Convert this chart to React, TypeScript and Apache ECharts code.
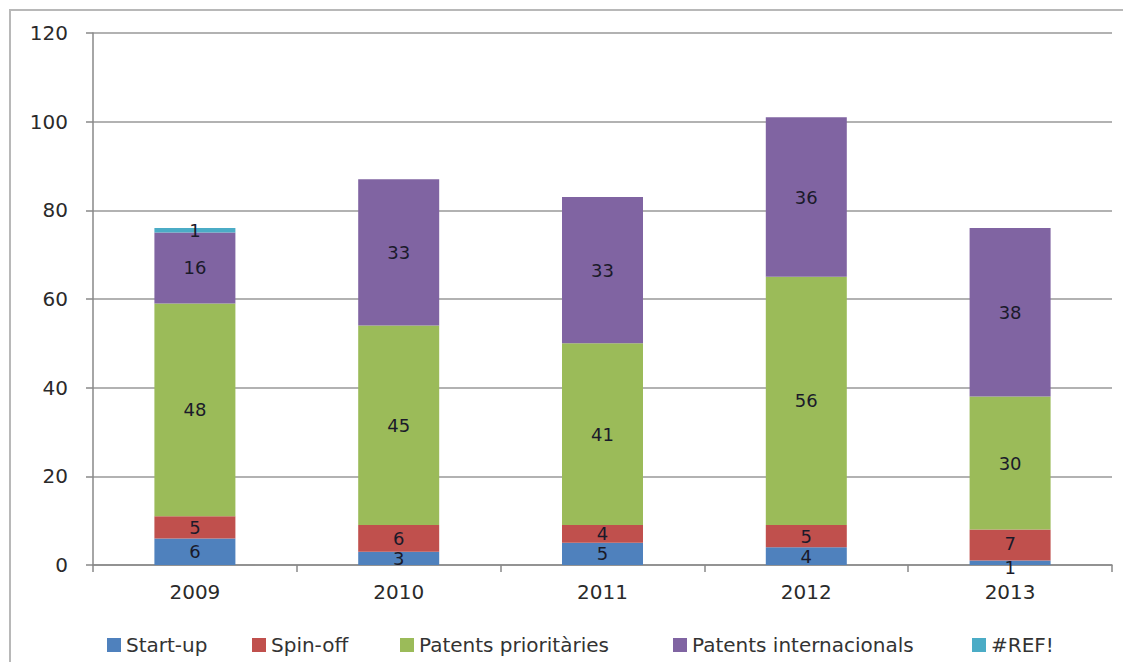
import React, { useEffect, useRef } from "react";
import * as echarts from "echarts";

const categories = ["2009", "2010", "2011", "2012", "2013"];
const startUp = [6, 3, 5, 4, 1];
const spinOff = [5, 6, 4, 5, 7];
const patentsPrioritaries = [48, 45, 41, 56, 30];
const patentsInternacionals = [16, 33, 33, 36, 38];
const refError = [1, 0, 0, 0, 0];

const seriesNames = [
  "Start-up",
  "Spin-off",
  "Patents prioritàries",
  "Patents internacionals",
  "#REF!",
];
const seriesData = [startUp, spinOff, patentsPrioritaries, patentsInternacionals, refError];
const colors = ["#4F81BD", "#C0504D", "#9BBB59", "#8064A2", "#4BACC6"];
const legendLefts = [94, 239, 387, 660, 959];

export default function App() {
  const ref = useRef<HTMLDivElement>(null);
  useEffect(() => {
    if (!ref.current) return;
    const chart = echarts.init(ref.current, undefined, { renderer: "svg" });
    const font = "DejaVu Sans";
    chart.setOption({
      animation: false,
      textStyle: { fontFamily: font },
      grid: { left: 85, top: 25, right: 11, bottom: 97 },
      graphic: [
        {
          type: "rect",
          shape: { x: 2, y: 2, width: 1300, height: 1000 },
          style: { fill: "none", stroke: "#b8b8b8", lineWidth: 2 },
          silent: true,
        },
      ],
      legend: seriesNames.map((n, i) => ({
        data: [n],
        left: legendLefts[i],
        top: 622,
        icon: "rect",
        itemWidth: 14,
        itemHeight: 14,
        itemGap: 6,
        selectedMode: false,
        textStyle: { fontFamily: font, fontSize: 20, color: "#333" },
      })),
      xAxis: {
        type: "category",
        data: categories,
        axisLine: { lineStyle: { color: "#888", width: 1.5 } },
        axisTick: { show: true, length: 7, lineStyle: { color: "#888", width: 1.5 } },
        axisLabel: { fontFamily: font, fontSize: 20, color: "#2a2a2a", margin: 17 },
      },
      yAxis: {
        type: "value",
        min: 0,
        max: 120,
        interval: 20,
        axisLine: { show: true, lineStyle: { color: "#888", width: 1.5 } },
        axisTick: { show: true, length: 7, lineStyle: { color: "#888", width: 1.5 } },
        splitLine: { lineStyle: { color: "#999", width: 1.5 } },
        axisLabel: { fontFamily: font, fontSize: 20, color: "#2a2a2a", margin: 25 },
      },
      series: seriesNames.map((n, i) => ({
        name: n,
        type: "bar",
        stack: "total",
        barWidth: 81,
        data: seriesData[i].map((v, j) =>
          i === 0 && v === 1 ? { value: v, label: { offset: [0, 5] } } :
          i === 1 && j === 4 ? { value: v, label: { offset: [0, -2] } } : v
        ),
        itemStyle: { color: colors[i] },
        label: {
          show: true,
          position: "inside",
          fontFamily: font,
          fontSize: 18,
          lineHeight: 14,
          color: "#1a1a2a",
          formatter: (p: any) => (p.value ? String(p.value) : ""),
        },
      })),
    });
    return () => chart.dispose();
  }, []);
  return <div ref={ref} style={{ width: 1115, height: 654 }} />;
}
